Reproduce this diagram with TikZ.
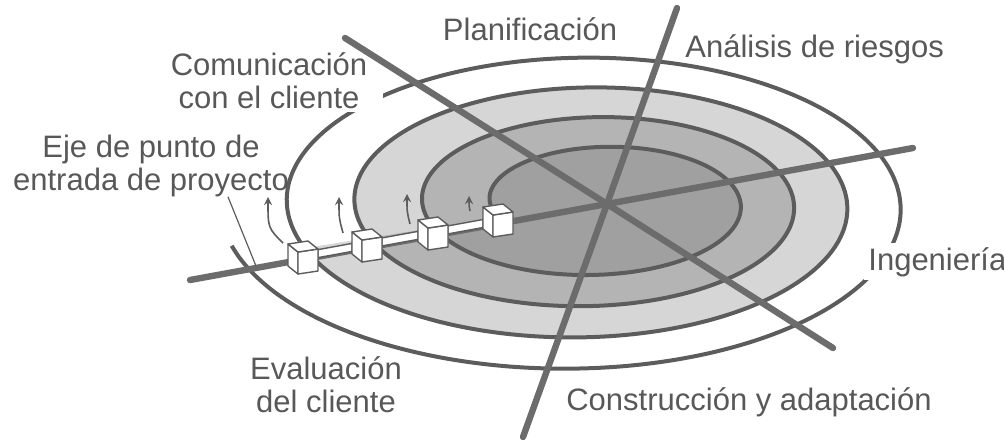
\documentclass[tikz,border=0pt]{standalone}
\usepackage{fontspec}
\setmainfont{Liberation Sans}
\usetikzlibrary{arrows.meta,positioning,calc}
\definecolor{grisEje}{RGB}{108,108,108}
\definecolor{grisLinea}{RGB}{92,92,92}
\definecolor{grisTexto}{RGB}{88,88,88}
\definecolor{grisOscuro}{RGB}{160,160,160}
\definecolor{grisMedio}{RGB}{180,180,180}
\definecolor{grisClaro}{RGB}{214,214,214}

\tikzset{
  etiqueta/.style={font=\fontsize{15.5}{16.5}\selectfont, text=grisTexto, inner sep=0pt, align=center},
  eje/.style={grisEje, line width=3.2pt, line cap=round},
  espira/.style={grisLinea, line width=2pt},
  cara/.style={draw=grisLinea, fill=white, line width=0.7pt, line join=round},
  flechita/.style={->, grisLinea, line width=0.8pt},
}

\begin{document}
\begin{tikzpicture}[x=0.5pt,y=-0.5pt,>=stealth,
  declare function={ex(\u)=602-7.2*\u+(112+60.5*\u)*cos(180-360*\u);
                    ey(\u)=202.9+0.75*\u-(48.5+30.5*\u)*sin(180-360*\u);}]
  \useasboundingbox (0,0) rectangle (1004,440);
  % bandas de la espiral
  \fill[grisClaro] plot[domain=1.95:2.95,samples=90,smooth,variable=\u] ({ex(\u)},{ey(\u)}) -- cycle;
  \fill[grisMedio] plot[domain=0.95:1.95,samples=90,smooth,variable=\u] ({ex(\u)},{ey(\u)}) -- cycle;
  \fill[grisOscuro] plot[domain=-0.05:0.95,samples=90,smooth,variable=\u] ({ex(\u)},{ey(\u)}) -- cycle;
  \draw[espira] plot[domain=-0.05:3.965,samples=400,smooth,variable=\u] ({ex(\u)},{ey(\u)});

  % rotulos que tapan la espiral
  \node[etiqueta, anchor=base, fill=white, inner xsep=8pt, inner ysep=2pt] (comunic) at (269,108) {Comunicación\\con el cliente};
  \node[etiqueta, anchor=base west, fill=white, inner sep=2pt] (ingen) at (864,270) {Ingeniería};

  % ejes
  \coordinate (centro) at (607,204);
  \coordinate (comIzq) at (345,38);  \coordinate (comDer) at (833,348);
  \coordinate (plaArr) at (677,8);   \coordinate (plaAba) at (523,437);
  \coordinate (entIzq) at (190,280); \coordinate (entDer) at (913,148);
  \draw[eje] (comIzq) -- (centro) -- (comDer);
  \draw[eje] (plaArr) -- (centro) -- (plaAba);
  \draw[eje] (entIzq) -- (centro) -- (entDer);

  % tramos entre cubos
  \foreach \a/\b in {318/352,382/418,448/483}
    \draw[cara] (\a,{280-0.1826*(\a-190)-7}) -- (\b,{280-0.1826*(\b-190)-7})
      -- (\b,{280-0.1826*(\b-190)+1}) -- (\a,{280-0.1826*(\a-190)+1}) -- cycle;

  % cubos de entrada
  \foreach \bx/\by in {298/274,362/262,428/250,493/237}{
    \begin{scope}[shift={(\bx,\by)}]
      \draw[cara] (0,0) -- (-10,-8) -- (-10,-30) -- (0,-22) -- cycle;
      \draw[cara] (0,0) -- (20,-3) -- (20,-25) -- (0,-22) -- cycle;
      \draw[cara] (0,-22) -- (20,-25) -- (10,-33) -- (-10,-30) -- cycle;
    \end{scope}
  }

  % flechas de giro
  \draw[flechita] (283,243) .. controls (268,228) .. (268,197);
  \draw[flechita] (343,233) .. controls (339,218) .. (339,197);
  \draw[flechita] (410,224) .. controls (407,212) .. (407,194);
  \draw[flechita] (470,211) .. controls (469,205) .. (469,196);

  % rotulos
  \node[etiqueta, anchor=base] (plan) at (530,40) {Planificación};
  \node[etiqueta, anchor=base west] (riesgo) at (685,57) {Análisis de riesgos};
  \node[etiqueta, anchor=base] (rotulo) at (151,190) {Eje de punto de\\entrada de proyecto};
  \node[etiqueta, anchor=base] (constr) at (749,410) {Construcción y adaptación};
  \node[etiqueta, anchor=base] (evalua) at (326,412) {Evaluación\\del cliente};

  \coordinate (pie) at (256,266);
  \draw[grisLinea, line width=0.6pt] ([xshift=38.5pt]rotulo.south) -- (pie);
\end{tikzpicture}
\end{document}
